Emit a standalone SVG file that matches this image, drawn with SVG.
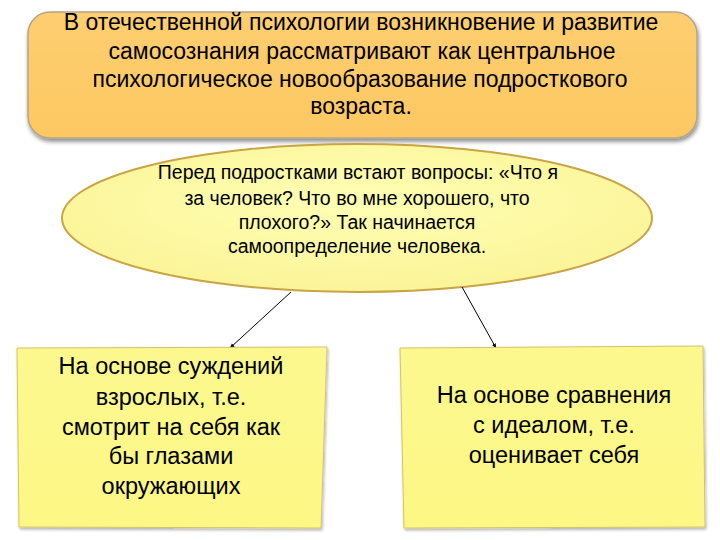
<svg xmlns="http://www.w3.org/2000/svg" width="720" height="540" viewBox="0 0 720 540">
<defs>
<style>
.t{font-family:"Liberation Sans",Arial,sans-serif;fill:#000;text-anchor:middle}
.big{font-size:23px}
.box{font-size:23.5px}
.mid{font-size:19.5px}
.conn{stroke:#000;stroke-width:1;fill:none;marker-end:url(#ah)}
</style>
<linearGradient id="gTop" x1="0" y1="0" x2="0" y2="1">
<stop offset="0" stop-color="#FDCE70"/><stop offset="1" stop-color="#FDC862"/>
</linearGradient>
<radialGradient id="gEl" cx="0.5" cy="0.4" r="0.6">
<stop offset="0" stop-color="#FFFFB4"/><stop offset="1" stop-color="#FBF498"/>
</radialGradient>
<linearGradient id="gBox" x1="0" y1="0" x2="0" y2="1">
<stop offset="0" stop-color="#FCF88E"/><stop offset="1" stop-color="#FDF785"/>
</linearGradient>
<filter id="sh" x="-5%" y="-5%" width="110%" height="115%">
<feGaussianBlur in="SourceAlpha" stdDeviation="2"/>
<feOffset dx="1" dy="3"/>
<feComponentTransfer><feFuncA type="linear" slope="0.45"/></feComponentTransfer>
<feMerge><feMergeNode/><feMergeNode in="SourceGraphic"/></feMerge>
</filter>
<filter id="sh2" x="-5%" y="-5%" width="110%" height="110%">
<feGaussianBlur in="SourceAlpha" stdDeviation="1.5"/>
<feOffset dx="1" dy="2"/>
<feComponentTransfer><feFuncA type="linear" slope="0.3"/></feComponentTransfer>
<feMerge><feMergeNode/><feMergeNode in="SourceGraphic"/></feMerge>
</filter>
<marker id="ah" viewBox="0 0 10 10" refX="9" refY="5" markerWidth="5" markerHeight="5" orient="auto">
<path d="M0,1 L10,5 L0,9 z" fill="#000"/>
</marker>
</defs>
<rect width="720" height="540" fill="#fff"/>

<g id="top">
<rect x="28" y="12" width="669" height="126" rx="22" fill="url(#gTop)" stroke="#B5A58A" stroke-width="1.5" filter="url(#sh)"/>
<text class="t big" x="361" y="30">В отечественной психологии возникновение и развитие</text>
<text class="t big" x="362" y="59">самосознания рассматривают как центральное</text>
<text class="t big" x="360" y="87">психологическое новообразование подросткового</text>
<text class="t big" x="361" y="114">возраста.</text>
</g>

<g id="ellipse">
<ellipse cx="357" cy="218" rx="295" ry="74" fill="url(#gEl)" stroke="#C9A445" stroke-width="2"/>
<text class="t mid" x="358" y="179">Перед подростками встают вопросы: «Что я</text>
<text class="t mid" x="357" y="205">за человек? Что во мне хорошего, что</text>
<text class="t mid" x="357" y="229">плохого?» Так начинается</text>
<text class="t mid" x="357" y="253">самоопределение человека.</text>
</g>

<g id="connectors">
<line class="conn" x1="291" y1="292" x2="230" y2="348"/>
<line class="conn" x1="462" y1="287" x2="496" y2="348"/>
</g>

<g id="left">
<path d="M17,348 L327,347 L321,528 L19,527 Z" fill="url(#gBox)" stroke="#D6C26A" stroke-width="1" filter="url(#sh2)"/>
<text class="t box" x="171" y="374">На основе суждений</text>
<text class="t box" x="171" y="405">взрослых, т.е.</text>
<text class="t box" x="171" y="435">смотрит на себя как</text>
<text class="t box" x="171" y="464">бы глазами</text>
<text class="t box" x="171" y="494">окружающих</text>
</g>

<g id="right">
<path d="M400,348 L703,346 L705,527 L404,528 Z" fill="url(#gBox)" stroke="#D6C26A" stroke-width="1" filter="url(#sh2)"/>
<text class="t box" x="554" y="403">На основе сравнения</text>
<text class="t box" x="554" y="433">с идеалом, т.е.</text>
<text class="t box" x="554" y="463">оценивает себя</text>
</g>
</svg>
